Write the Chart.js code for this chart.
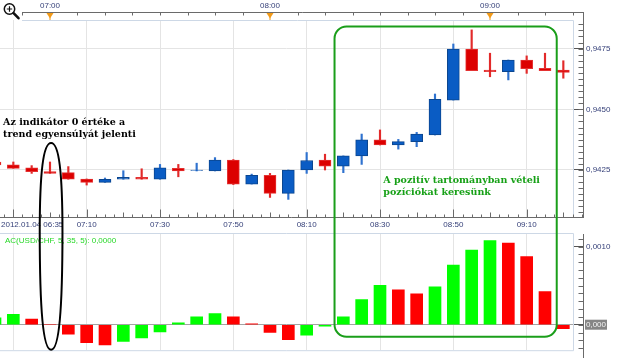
<!DOCTYPE html>
<html><head><meta charset="utf-8">
<script src="https://cdn.jsdelivr.net/npm/chart.js@4.4.0/dist/chart.umd.min.js"></script>
<style>
html,body{margin:0;padding:0;background:#fff;}
#wrap{position:relative;width:620px;height:358px;overflow:hidden;background:#fff;}
canvas{position:absolute;left:0;top:0;}
</style></head><body>
<div id="wrap"><canvas id="main" width="620" height="358"></canvas><canvas id="ind" width="620" height="358"></canvas></div>
<script>
// ---- data (USD/CHF 5-minute candles, 2012.01.04) ----
const times = ['06:45','06:50','06:55','07:00','07:05','07:10','07:15','07:20','07:25','07:30','07:35','07:40','07:45','07:50','07:55','08:00','08:05','08:10','08:15','08:20','08:25','08:30','08:35','08:40','08:45','08:50','08:55','09:00','09:05','09:10','09:15','09:20'];
const openP  = [0.94283,0.94271,0.94259,0.94243,0.94239,0.94213,0.94199,0.94212,0.94220,0.94212,0.94257,0.94248,0.94246,0.94291,0.94192,0.94228,0.94154,0.94250,0.94291,0.94266,0.94308,0.94374,0.94353,0.94367,0.94394,0.94538,0.94748,0.94662,0.94655,0.94703,0.94669,0.94662];
const highP  = [0.94288,0.94283,0.94268,0.94283,0.94264,0.94213,0.94217,0.94247,0.94255,0.94273,0.94273,0.94278,0.94301,0.94293,0.94233,0.94236,0.94250,0.94322,0.94315,0.94308,0.94398,0.94415,0.94376,0.94405,0.94563,0.94769,0.94827,0.94731,0.94703,0.94720,0.94731,0.94700];
const lowP   = [0.94268,0.94257,0.94236,0.94236,0.94212,0.94188,0.94199,0.94212,0.94212,0.94212,0.94222,0.94246,0.94246,0.94190,0.94192,0.94137,0.94129,0.94236,0.94250,0.94239,0.94273,0.94353,0.94336,0.94346,0.94394,0.94538,0.94659,0.94634,0.94621,0.94648,0.94659,0.94628];
const closeP = [0.94271,0.94257,0.94243,0.94236,0.94212,0.94199,0.94212,0.94220,0.94212,0.94259,0.94246,0.94250,0.94291,0.94192,0.94228,0.94154,0.94250,0.94289,0.94266,0.94308,0.94374,0.94353,0.94367,0.94398,0.94541,0.94748,0.94659,0.94655,0.94703,0.94667,0.94659,0.94652];
// Accelerator Oscillator AC(USD/CHF, 5, 35, 5)
const acValues = [0.000088,0.000133,0.000073,0.0,-0.000121,-0.000230,-0.000258,-0.000214,-0.000169,-0.000093,0.000024,0.000100,0.000141,0.000100,0.000012,-0.000100,-0.000190,-0.000133,-0.000020,0.000100,0.000323,0.000504,0.000447,0.000395,0.000484,0.000762,0.000955,0.001076,0.001044,0.000871,0.000423,-0.000052];
// axis ticks
const bottomTimeTicks = ['06:50','07:10','07:30','07:50','08:10','08:30','08:50','09:10'];
const topTimeTicks = ['07:00','08:00','09:00'];
const priceTicks = [0.9425, 0.9450, 0.9475];
const acTicks = [0, 0.001];
const dateLabel = '2012.01.04 06:35';
const indicatorLabel = 'AC(USD/CHF, 5, 35, 5): 0,0000';
const noteLeft = ['Az indikátor 0 értéke a', 'trend egyensúlyát jelenti'];
const noteRight = ['A pozitív tartományban vételi', 'pozíciókat keresünk'];

// ---- helpers ----
const toMin = s => { const [h,m] = s.split(':').map(Number); return h*60+m; };
const fmtT = v => { const h = Math.floor(v/60), m = Math.round(v - h*60); return String(h).padStart(2,'0')+':'+String(m).padStart(2,'0'); };
const T = times.map(toMin);
const gridT = bottomTimeTicks.map(toMin);
const topT = topTimeTicks.map(toMin);
const isUp = T.map((_,i)=> closeP[i] >= openP[i]);
const acUp = acValues.map((v,i)=> i===0 ? true : v >= acValues[i-1]);

const pxPerMin = 220/60;
const xMin = 420 - 50/pxPerMin;
const xMax = xMin + 573/pxPerMin;
const NAVY = '#343f78';
const GRID = '#e4e4e4';
const AXIS = '#6a6a6a';
const FRAME = '#cdd8e6';
const LBLFONT = {family:'Liberation Sans', size:8};

const BLUE = '#0a5cc4', BLUE_B = '#0b468f', BLUE_W = '#2f72cf';
const RED = '#dc0000', RED_B = '#e43232', RED_W = '#e22a2a';

const mainDeco = {
  id:'mainDeco',
  afterDraw(chart){
    const ctx = chart.ctx, x = chart.scales.x, y = chart.scales.y, a = chart.chartArea;
    ctx.save();
    // frame
    ctx.strokeStyle = FRAME; ctx.lineWidth = 1;
    ctx.beginPath(); ctx.moveTo(22, a.top+0.5); ctx.lineTo(a.right+0.5, a.top+0.5);
    ctx.lineTo(a.right+0.5, a.bottom); ctx.stroke();
    // top axis
    const axR = a.right + 10.5;
    ctx.strokeStyle = AXIS;
    ctx.beginPath(); ctx.moveTo(22, 12.5); ctx.lineTo(axR, 12.5); ctx.stroke();
    ctx.beginPath();
    for (let t = Math.ceil((xMin + 22/pxPerMin)/7.5)*7.5; x.getPixelForValue(t) <= axR; t += 7.5){
      const px = Math.round(x.getPixelForValue(t))+0.5;
      ctx.moveTo(px, 12.5); ctx.lineTo(px, 15.5);
    }
    ctx.stroke();
    // orange hour markers
    ctx.fillStyle = '#f29a18';
    topT.forEach(t=>{
      const px = x.getPixelForValue(t);
      ctx.beginPath(); ctx.moveTo(px-3.5, 13); ctx.lineTo(px+3.5, 13); ctx.lineTo(px, 18.5); ctx.closePath(); ctx.fill();
      ctx.fillRect(Math.round(px)-0.5, 17, 1, 3);
    });
    // bottom axis
    ctx.strokeStyle = AXIS;
    ctx.beginPath(); ctx.moveTo(0, a.bottom+0.5); ctx.lineTo(axR, a.bottom+0.5); ctx.stroke();
    ctx.beginPath();
    for (let t = Math.ceil(xMin/2.5)*2.5; x.getPixelForValue(t) <= axR; t += 2.5){
      const px = Math.round(x.getPixelForValue(t))+0.5;
      const len = (Math.abs(t % 20 - 10) < 1e-6) ? 8 : (Math.abs(t % 10) < 1e-6 ? 5 : 3);
      ctx.moveTo(px, a.bottom+0.5); ctx.lineTo(px, a.bottom+0.5-len);
    }
    ctx.stroke();
    // right axis
    ctx.beginPath(); ctx.moveTo(axR, 12); ctx.lineTo(axR, a.bottom+1); ctx.stroke();
    ctx.beginPath();
    for (let v = Math.ceil(y.min/0.00025)*0.00025; v <= y.max; v += 0.00025){
      const py = Math.round(y.getPixelForValue(v))+0.5;
      ctx.moveTo(axR, py); ctx.lineTo(axR-5, py);
    }
    ctx.stroke();
    // magnifier icon
    ctx.strokeStyle = '#111'; ctx.lineWidth = 1.5;
    ctx.beginPath(); ctx.arc(9.5, 9, 5.2, 0, Math.PI*2); ctx.stroke();
    ctx.lineWidth = 1.2;
    ctx.beginPath(); ctx.moveTo(6.8, 9); ctx.lineTo(12.2, 9); ctx.moveTo(9.5, 6.3); ctx.lineTo(9.5, 11.7); ctx.stroke();
    ctx.lineWidth = 2.6; ctx.lineCap = 'round';
    ctx.beginPath(); ctx.moveTo(13.6, 13.2); ctx.lineTo(18.5, 18.2); ctx.stroke();
    // date label
    ctx.font = '8px "Liberation Sans"'; ctx.fillStyle = NAVY; ctx.textBaseline = 'middle'; ctx.textAlign = 'left';
    ctx.fillText(dateLabel, 1, a.bottom + 8);
    ctx.restore();
  }
};

const mainChart = new Chart(document.getElementById('main'), {
  type:'bar',
  data:{ datasets:[
    { label:'body', order:0, grouped:false, barThickness:12, borderWidth:1, borderSkipped:false,
      data: T.map((t,i)=>({x:t, y:[openP[i], closeP[i]]})),
      backgroundColor: isUp.map(u=>u?BLUE:RED), borderColor: isUp.map(u=>u?BLUE_B:RED_B) },
    { label:'wick', order:1, grouped:false, barThickness:1.5, borderWidth:0,
      data: T.map((t,i)=>({x:t, y:[lowP[i], highP[i]]})),
      backgroundColor: isUp.map(u=>u?BLUE_W:RED_W) }
  ]},
  options:{
    responsive:false, animation:false, devicePixelRatio:1,
    layout:{padding:0},
    plugins:{legend:{display:false}, tooltip:{enabled:false}},
    scales:{
      x:{ type:'linear', position:'bottom', min:xMin, max:xMax, offset:false,
        afterBuildTicks: s => { s.ticks = gridT.map(v=>({value:v})); },
        afterFit: s => { s.height = 358 - 217; },
        grid:{color:GRID, drawTicks:false, offset:false}, border:{display:false},
        ticks:{autoSkip:false, maxRotation:0, minRotation:0, padding:3, color:NAVY, font:LBLFONT,
          callback: v => v === gridT[0] ? '' : fmtT(v)} },
      xTop:{ type:'linear', position:'top', min:xMin, max:xMax, offset:false,
        afterBuildTicks: s => { s.ticks = topT.map(v=>({value:v})); },
        afterFit: s => { s.height = 20; },
        grid:{display:false, drawTicks:false}, border:{display:false},
        ticks:{autoSkip:false, maxRotation:0, minRotation:0, padding:9, color:NAVY, font:LBLFONT, callback: v => fmtT(v)} },
      y:{ position:'right', min:0.940564, max:0.948678,
        afterBuildTicks: s => { s.ticks = priceTicks.map(v=>({value:v})); },
        afterFit: s => { s.width = 47; },
        grid:{color:GRID, tickColor:'#555', tickLength:10, drawTicks:true}, border:{display:false},
        ticks:{padding:3, color:NAVY, font:LBLFONT, callback: v => v.toFixed(4).replace('.', ',')} }
    }
  },
  plugins:[mainDeco]
});

// annotation anchors in data units
const ovalAnchor = {t:420.3, halfMin:3.1, topPrice:0.94361, bottomAC:-0.00032};
const boxAnchor = {t0:497.6, t1:558.2, topPrice:0.94841, bottomAC:-0.000154};
const leftNoteAnchor = {t:407.2, price:0.944333};
const rightNoteAnchor = {t:510.9, price:0.941952};

const indDeco = {
  id:'indDeco',
  beforeDraw(chart){
    const ctx = chart.ctx, y = chart.scales.y, a = chart.chartArea;
    const py = y.getPixelForValue(0);
    ctx.save(); ctx.fillStyle = '#858585';
    ctx.fillRect(a.right + 12, py - 5, 22, 10);
    ctx.restore();
  },
  afterDraw(chart){
    const ctx = chart.ctx, x = chart.scales.x, y = chart.scales.y, a = chart.chartArea;
    const my = mainChart.scales.y, mx = mainChart.scales.x;
    ctx.save();
    // frame
    ctx.strokeStyle = FRAME; ctx.lineWidth = 1;
    ctx.beginPath(); ctx.moveTo(0, a.top+0.5); ctx.lineTo(a.right+0.5, a.top+0.5);
    ctx.lineTo(a.right+0.5, a.bottom+0.5); ctx.lineTo(0, a.bottom+0.5); ctx.stroke();
    // right axis
    const axR = a.right + 10.5;
    ctx.strokeStyle = AXIS;
    ctx.beginPath(); ctx.moveTo(axR, a.top+1); ctx.lineTo(axR, 358); ctx.stroke();
    ctx.beginPath();
    for (let v = Math.ceil(y.min/0.0001)*0.0001; v <= y.max; v += 0.0001){
      const py = Math.round(y.getPixelForValue(v))+0.5;
      ctx.moveTo(axR, py); ctx.lineTo(axR-5, py);
    }
    ctx.stroke();
    // indicator label
    ctx.font = '8px "Liberation Sans"'; ctx.fillStyle = '#27d827'; ctx.textBaseline = 'middle'; ctx.textAlign = 'left';
    ctx.fillText(indicatorLabel, 5, a.top + 8);
    // oval
    const cx = mx.getPixelForValue(ovalAnchor.t);
    const rx = mx.getPixelForValue(ovalAnchor.t + ovalAnchor.halfMin) - cx;
    const top = my.getPixelForValue(ovalAnchor.topPrice);
    const bottom = y.getPixelForValue(ovalAnchor.bottomAC);
    const cy = top + (bottom - top) * 0.43;
    const k = 0.68, r1 = cy - top, r2 = bottom - cy;
    ctx.strokeStyle = '#000'; ctx.lineWidth = 2;
    ctx.beginPath();
    ctx.moveTo(cx, top);
    ctx.bezierCurveTo(cx+rx*k, top, cx+rx, cy-r1*k, cx+rx, cy);
    ctx.bezierCurveTo(cx+rx, cy+r2*k, cx+rx*k, bottom, cx, bottom);
    ctx.bezierCurveTo(cx-rx*k, bottom, cx-rx, cy+r2*k, cx-rx, cy);
    ctx.bezierCurveTo(cx-rx, cy-r1*k, cx-rx*k, top, cx, top);
    ctx.closePath(); ctx.stroke();
    // green rounded box
    const bx0 = mx.getPixelForValue(boxAnchor.t0), bx1 = mx.getPixelForValue(boxAnchor.t1);
    const by0 = my.getPixelForValue(boxAnchor.topPrice), by1 = y.getPixelForValue(boxAnchor.bottomAC);
    ctx.strokeStyle = '#1a9e1a'; ctx.lineWidth = 2;
    ctx.beginPath(); ctx.roundRect(bx0, by0, bx1-bx0, by1-by0, 12); ctx.stroke();
    // notes
    ctx.font = 'bold 9.5px "DejaVu Serif"'; ctx.textBaseline = 'alphabetic'; ctx.textAlign = 'left';
    ctx.fillStyle = '#000';
    const lx = mx.getPixelForValue(leftNoteAnchor.t), ly = my.getPixelForValue(leftNoteAnchor.price);
    noteLeft.forEach((s,i)=> ctx.fillText(s, lx, ly + i*11.7));
    ctx.fillStyle = '#16a016';
    const rxn = mx.getPixelForValue(rightNoteAnchor.t), ryn = my.getPixelForValue(rightNoteAnchor.price);
    noteRight.forEach((s,i)=> ctx.fillText(s, rxn, ryn + i*11.5));
    ctx.restore();
  }
};

new Chart(document.getElementById('ind'), {
  type:'bar',
  data:{ datasets:[{ label:'AC', grouped:false, barThickness:12, borderWidth:0,
    data: T.map((t,i)=>({x:t, y:acValues[i]})),
    backgroundColor: acUp.map(u=>u?'#00ff00':'#ff0000') }]},
  options:{
    responsive:false, animation:false, devicePixelRatio:1,
    layout:{padding:{top:233, bottom:1, left:0, right:0}},
    plugins:{legend:{display:false}, tooltip:{enabled:false}},
    scales:{
      x:{ type:'linear', position:'bottom', min:xMin, max:xMax, offset:false,
        afterBuildTicks: s => { s.ticks = gridT.map(v=>({value:v})); },
        afterFit: s => { s.height = 0; },
        grid:{color:GRID, drawTicks:false, offset:false}, border:{display:false},
        ticks:{display:false} },
      y:{ position:'right', min:-0.000326, max:0.001173,
        afterBuildTicks: s => { s.ticks = acTicks.map(v=>({value:v})); },
        afterFit: s => { s.width = 47; },
        grid:{color: c => (c.tick && c.tick.value === 0) ? '#a3a3a3' : 'rgba(0,0,0,0)', tickColor:'#555', tickLength:10, drawTicks:true},
        border:{display:false},
        ticks:{padding:3, font:LBLFONT,
          color: c => (c.tick && c.tick.value === 0) ? '#f4f4f4' : NAVY,
          callback: v => v === 0 ? '0,000' : v.toFixed(4).replace('.', ',')} }
    }
  },
  plugins:[indDeco]
});
</script>
</body></html>
